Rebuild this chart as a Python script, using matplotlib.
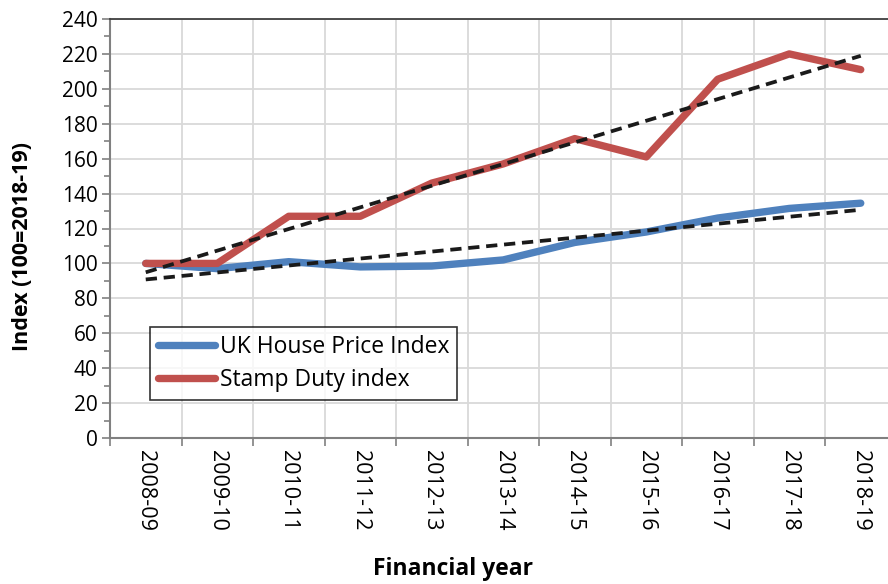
import numpy as np
import matplotlib
matplotlib.use("Agg")
import matplotlib.pyplot as plt
from matplotlib.ticker import MultipleLocator, FixedLocator

plt.rcParams['font.family'] = ['Open Sans', 'DejaVu Sans']

# data
years = ['2008-09', '2009-10', '2010-11', '2011-12', '2012-13', '2013-14',
         '2014-15', '2015-16', '2016-17', '2017-18', '2018-19']
hpi = [100, 97, 101, 98, 98.5, 102, 112, 118, 126, 131.5, 134.5]
stamp_duty = [100, 100, 127, 127, 146, 157, 171.5, 161, 205.5, 220, 211]

x = np.arange(len(years))

fig = plt.figure(figsize=(8.88, 5.84), dpi=100)
# plot area runs past the right edge, like the original
ax = fig.add_axes([110 / 888, 146 / 584, 786.5 / 888, 419 / 584])

ax.plot(x, hpi, color='#4F81BD', lw=5.3, solid_capstyle='round',
        solid_joinstyle='round', label='UK House Price Index', zorder=3)
ax.plot(x, stamp_duty, color='#C0504D', lw=5.3, solid_capstyle='round',
        solid_joinstyle='round', label='Stamp Duty index', zorder=3)

# linear trend lines
for series in (hpi, stamp_duty):
    k, b = np.polyfit(x, series, 1)
    ax.plot(x, k * x + b, color='#1a1a1a', lw=2.7, ls=(0, (3, 1.8)), zorder=4)

ax.set_xlim(-0.5, len(years) - 0.5)
ax.set_ylim(0, 240)
ax.yaxis.set_major_locator(MultipleLocator(20))
ax.yaxis.set_minor_locator(MultipleLocator(10))
ax.set_xticks(x)
ax.set_xticklabels(years, rotation=-90, fontsize=15.5)
ax.xaxis.set_minor_locator(FixedLocator(np.arange(-0.5, len(years), 1)))
ax.tick_params(axis='x', which='major', length=0, pad=9)
ax.tick_params(axis='x', which='minor', length=6, color='#808080', width=1.2)
ax.tick_params(axis='y', which='major', length=6, color='#808080', width=1.2,
               labelsize=15, pad=3)
ax.tick_params(axis='y', which='minor', length=4, color='#808080', width=1.2)

ax.grid(True, which='major', axis='y', color='#D9D9D9', lw=1.3)
ax.grid(True, which='minor', axis='x', color='#D9D9D9', lw=1.3)
ax.set_axisbelow(True)

for side in ('left', 'bottom'):
    ax.spines[side].set_color('#808080')
    ax.spines[side].set_linewidth(1.5)
ax.spines['top'].set_color('#404040')
ax.spines['top'].set_linewidth(1.3)
ax.spines['right'].set_visible(False)

ax.set_ylabel('Index (100=2018-19)', fontsize=15.5, fontweight='bold')
ax.yaxis.set_label_coords(-0.098, 0.458)
ax.set_xlabel('Financial year', fontsize=16.5, fontweight='bold')
ax.xaxis.set_label_coords(0.436, -0.283)

leg = ax.legend(loc='upper left', bbox_to_anchor=(40 / 786.5, 111 / 419),
                fontsize=16.5, frameon=True, fancybox=False, handlelength=2.5,
                handletextpad=0.2, borderpad=0.35, labelspacing=0.4,
                borderaxespad=0)
leg.get_frame().set_edgecolor('black')
leg.get_frame().set_linewidth(1.2)

fig.savefig('out.png', dpi=100)
